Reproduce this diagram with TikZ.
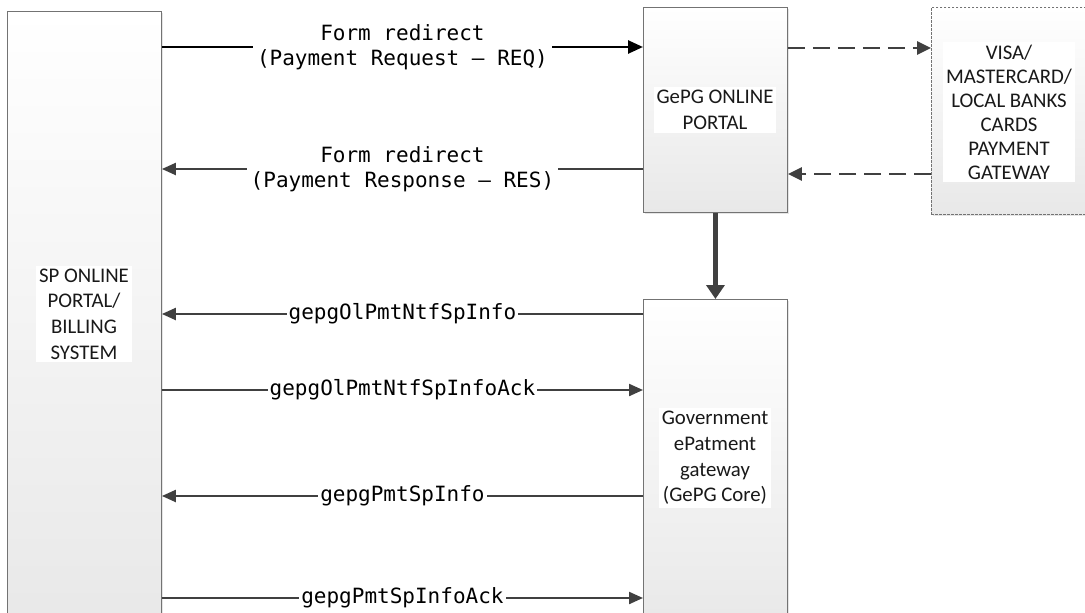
\documentclass[tikz,border=0pt]{standalone}
\usepackage{fontspec}
\setmainfont{Carlito}
\newfontfamily\monof{DejaVu Sans Mono}
\usetikzlibrary{arrows.meta,shadows}
\tikzset{
  box/.style={draw=black!55, line width=0.9pt, top color=white, bottom color=black!9,
    drop shadow={shadow xshift=2pt, shadow yshift=-2pt, opacity=0.25, fill=black!40},
    anchor=north west, inner sep=0pt},
  dbox/.style={box, draw=black!55, dash pattern=on 2.5pt off 1.5pt},
  boxtext/.style={fill=white, text=black!90, font=\fontsize{20.8}{25.6}\selectfont, align=center, inner sep=3pt},
  msg/.style={fill=white, font=\monof\fontsize{21}{25}\selectfont, inner sep=2pt, align=center},
  arrK/.style={line width=2.6pt, draw=black, -{Triangle[length=15pt,width=13pt]}},
  arr/.style={line width=2.2pt, draw=black!75, -{Triangle[length=14pt,width=12pt]}},
  darr/.style={line width=2.6pt, draw=black!75, dash pattern=on 17pt off 8pt, -{Triangle[length=14pt,width=13pt]}},
  varr/.style={line width=5pt, draw=black!75, -{Triangle[length=14pt,width=18pt]}},
}
\begin{document}
\begin{tikzpicture}[x=1pt,y=-1pt]
\useasboundingbox (0,0) rectangle (1085,613);
\fill[white] (0,0) rectangle (1085,613);
% boxes
\node[box, minimum width=154pt, minimum height=620pt] (sp) at (7,11) {};
\node[box, minimum width=144pt, minimum height=205pt] (portal) at (643,7) {};
\node[dbox, minimum width=160pt, minimum height=207pt] (visa) at (931,7) {};
\node[box, minimum width=144pt, minimum height=330pt] (core) at (643,299) {};
% box texts
\node[boxtext] (sptext) at (84,314) {SP ONLINE\\PORTAL/\\BILLING\\SYSTEM};
\node[boxtext] (portaltext) at (715,110) {GePG ONLINE\\PORTAL};
\node[boxtext, font=\fontsize{20.8}{24}\selectfont] (visatext) at (1009,112) {VISA/\\MASTERCARD/\\LOCAL BANKS\\CARDS\\PAYMENT\\GATEWAY};
\node[boxtext] (coretext) at (715,458) {Government\\ePatment\\gateway\\(GePG Core)};
% connectors
\draw[arrK] (sp.east |- 0,47) -- node[msg, inner xsep=4pt] (m1) {Form redirect\\(Payment Request – REQ)} (portal.west |- 0,47);
\draw[arr] (portal.west |- 0,169) -- node[msg, inner xsep=4pt] (m2) {Form redirect\\(Payment Response – RES)} (sp.east |- 0,169);
\draw[darr] (portal.east |- 0,48) -- (visa.west |- 0,48);
\draw[darr] (visa.west |- 0,174) -- (portal.east |- 0,174);
\draw[varr] (portal.south) -- (core.north);
\draw[arr] (core.west |- 0,314) -- node[msg] (m3) {gepgOlPmtNtfSpInfo} (sp.east |- 0,314);
\draw[arr] (sp.east |- 0,390) -- node[msg] (m4) {gepgOlPmtNtfSpInfoAck} (core.west |- 0,390);
\draw[arr] (core.west |- 0,496) -- node[msg] (m5) {gepgPmtSpInfo} (sp.east |- 0,496);
\draw[arr] (sp.east |- 0,598) -- node[msg] (m6) {gepgPmtSpInfoAck} (core.west |- 0,598);
\end{tikzpicture}
\end{document}
